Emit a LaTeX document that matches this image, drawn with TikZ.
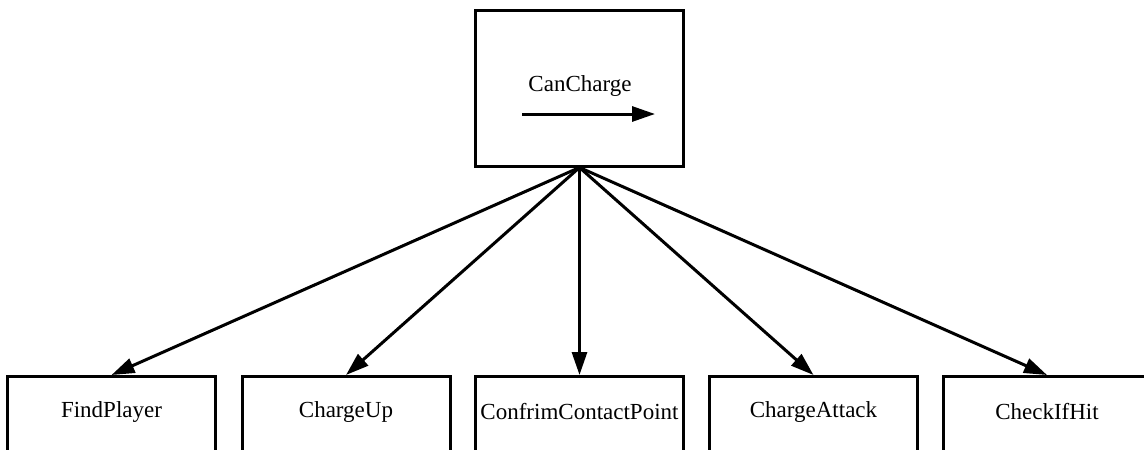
\documentclass[tikz,border=0pt]{standalone}
\usepackage{fontspec}
\setmainfont{Liberation Serif}
\usetikzlibrary{arrows.meta}
\begin{document}
\begin{tikzpicture}[x=1pt,y=-1pt,
  box/.style={draw=black,line width=3pt,rectangle,minimum width=208pt,inner sep=0pt},
  topbox/.style={box,minimum height=156pt},
  leafbox/.style={box,minimum height=150pt,anchor=north},
  txt/.style={font=\fontsize{23}{27}\selectfont,inner sep=0pt},
  link/.style={line width=3pt,-{Triangle[length=23pt,width=15pt]}}]
\clip (0,0) rectangle (1144,450);
\useasboundingbox (0,0) rectangle (1144,450);
\node[topbox] (top) at (579.5,88) {};
\node[txt] (toplabel) at (580,86) {CanCharge};
\coordinate (a1) at (522,114);
\coordinate (a2) at (655,114);
\draw[link] (a1) -- (a2);
\node[leafbox] (b1) at (111.5,375) {};
\node[leafbox] (b2) at (346,375) {};
\node[leafbox] (b3) at (579.5,375) {};
\node[leafbox] (b4) at (813.5,375) {};
\node[leafbox] (b5) at (1047,375) {};
\node[txt] (t1) at (111.5,412) {FindPlayer};
\node[txt] (t2) at (346,412) {ChargeUp};
\node[txt] (t3) at (579.5,412) {ConfrimContactPoint};
\node[txt] (t4) at (813.5,412) {ChargeAttack};
\node[txt] (t5) at (1047,412) {CheckIfHit};
\foreach \b in {b1,b2,b3,b4,b5}
  \draw[link] (top.south) -- (\b.north);
\end{tikzpicture}
\end{document}
